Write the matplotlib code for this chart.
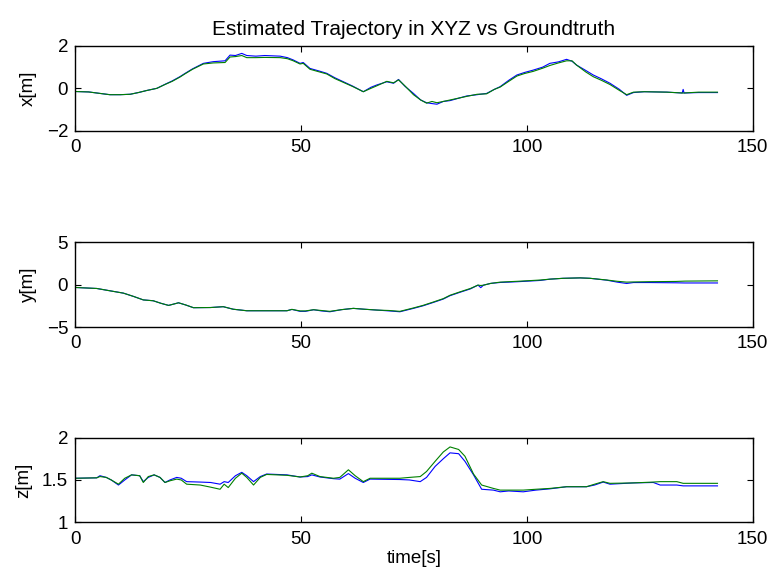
import matplotlib
matplotlib.use('Agg')
import matplotlib.pyplot as plt

# x[m]: tiempo, estimado (azul), groundtruth (verde)
t_x = [0, 3, 5.5, 7.7, 10, 12.2, 14, 15.9, 18.1, 20, 21.5, 23.2, 24.3, 26, 28.4, 30.6,
       33.2, 34.3, 35.5, 36.9, 38, 40, 42, 45.4, 47, 48.3, 49.8, 50.5, 52, 54, 55.7,
       57.5, 59.4, 61.5, 63.8, 65.5, 66.8, 69, 70.5, 71.6, 73, 74.9, 76.5, 77.8, 79,
       80.1, 81.5, 83, 86.7, 89, 91.1, 92.8, 94.1, 96, 97.8, 99.5, 101.4, 103.5, 105.1,
       107, 108.8, 110, 111, 113, 114.7, 116.5, 118.4, 120.5, 122.1, 123.6, 126, 131,
       134.4, 134.6, 134.8, 138, 142.2]
x_est = [-0.15, -0.17, -0.24, -0.3, -0.3, -0.28, -0.2, -0.1, 0.0, 0.2, 0.35, 0.55, 0.7,
         0.92, 1.18, 1.26, 1.3, 1.57, 1.55, 1.65, 1.55, 1.52, 1.55, 1.52, 1.45, 1.34, 1.18,
         1.22, 0.94, 0.82, 0.71, 0.5, 0.31, 0.1, -0.16, 0.05, 0.16, 0.31, 0.24, 0.42, 0.1,
         -0.24, -0.55, -0.68, -0.72, -0.75, -0.62, -0.58, -0.36, -0.3, -0.24, -0.05, 0.08,
         0.38, 0.63, 0.75, 0.86, 1.0, 1.18, 1.25, 1.37, 1.28, 1.1, 0.85, 0.63, 0.45, 0.24,
         -0.05, -0.33, -0.2, -0.16, -0.18, -0.22, -0.05, -0.22, -0.2, -0.2]
x_gt = [-0.15, -0.17, -0.24, -0.3, -0.3, -0.28, -0.2, -0.1, 0.0, 0.19, 0.33, 0.53, 0.68,
        0.9, 1.15, 1.2, 1.22, 1.48, 1.5, 1.55, 1.45, 1.45, 1.46, 1.45, 1.4, 1.3, 1.15,
        1.18, 0.9, 0.78, 0.68, 0.46, 0.28, 0.08, -0.16, 0.0, 0.12, 0.33, 0.26, 0.4, 0.12,
        -0.3, -0.55, -0.7, -0.62, -0.68, -0.62, -0.55, -0.38, -0.28, -0.26, -0.05, 0.06,
        0.33, 0.58, 0.7, 0.8, 0.95, 1.08, 1.2, 1.3, 1.3, 1.1, 0.78, 0.55, 0.38, 0.18,
        -0.1, -0.3, -0.18, -0.16, -0.18, -0.22, -0.22, -0.22, -0.18, -0.18]

# y[m]
t_y = [0, 4.8, 8, 10.7, 13, 15.1, 17.3, 19, 20.7, 22.9, 24.5, 26.2, 30, 32.8, 35, 38, 42,
       46.9, 48, 49.8, 51, 52.8, 54.5, 56.4, 59, 61.6, 64, 66.8, 69.5, 71.9, 74.9, 77,
       79.3, 81.5, 83, 85.2, 87.5, 89.2, 89.8, 90.4, 92, 94.1, 96, 98, 101.4, 103, 105.1,
       108, 111.8, 114, 117.7, 120, 122.1, 123.6, 127, 133, 135, 142.2]
y_est = [-0.33, -0.45, -0.75, -1.0, -1.4, -1.8, -1.9, -2.2, -2.45, -2.14, -2.4, -2.72, -2.7,
         -2.6, -2.9, -3.08, -3.08, -3.08, -2.92, -3.15, -3.15, -2.96, -3.1, -3.2, -2.95,
         -2.8, -2.9, -3.0, -3.1, -3.2, -2.8, -2.5, -2.1, -1.7, -1.3, -0.9, -0.5, -0.05,
         -0.35, -0.06, 0.15, 0.26, 0.3, 0.35, 0.45, 0.5, 0.65, 0.75, 0.8, 0.75, 0.53, 0.3,
         0.14, 0.25, 0.25, 0.22, 0.2, 0.2]
y_gt = [-0.33, -0.45, -0.75, -1.0, -1.4, -1.8, -1.9, -2.2, -2.45, -2.14, -2.4, -2.72, -2.7,
        -2.6, -2.9, -3.08, -3.08, -3.08, -2.92, -3.1, -3.1, -2.96, -3.05, -3.15, -2.95,
        -2.8, -2.9, -3.0, -3.05, -3.15, -2.75, -2.45, -2.05, -1.65, -1.25, -0.85, -0.45,
        -0.05, -0.1, -0.06, 0.15, 0.3, 0.35, 0.4, 0.5, 0.55, 0.65, 0.75, 0.8, 0.75, 0.55,
        0.4, 0.3, 0.32, 0.35, 0.38, 0.42, 0.45]

# z[m]
t_z = [0, 4.8, 5.5, 6.9, 8, 9.6, 11, 12.5, 14.3, 15.1, 16.2, 17.5, 18.8, 19.9, 21, 22.5,
       23.5, 24.7, 27.7, 30, 32.1, 33, 33.9, 35.5, 36.9, 38, 39.5, 41, 42.4, 46.9, 49.8,
       51.5, 52.4, 54.2, 57.2, 58.6, 60.5, 62, 63.8, 65.3, 71.9, 74, 76.4, 77.8, 79.7,
       81.5, 83, 84.9, 86.3, 88.2, 90, 92.6, 94.1, 96, 99.2, 102, 105.1, 108.8, 113.2,
       115, 116.9, 118.4, 123.6, 128, 129.5, 133.2, 134.6, 142.2]
z_est = [1.52, 1.525, 1.55, 1.53, 1.5, 1.44, 1.5, 1.56, 1.55, 1.48, 1.53, 1.56, 1.53, 1.47,
         1.5, 1.53, 1.52, 1.48, 1.475, 1.47, 1.45, 1.48, 1.47, 1.55, 1.59, 1.55, 1.48, 1.54,
         1.57, 1.56, 1.535, 1.54, 1.56, 1.535, 1.515, 1.51, 1.575, 1.52, 1.47, 1.51, 1.505,
         1.5, 1.48, 1.53, 1.66, 1.75, 1.82, 1.81, 1.72, 1.56, 1.39, 1.38, 1.36, 1.37, 1.36,
         1.38, 1.395, 1.42, 1.42, 1.44, 1.475, 1.45, 1.465, 1.47, 1.44, 1.44, 1.43, 1.43]
z_gt = [1.52, 1.525, 1.54, 1.53, 1.5, 1.45, 1.52, 1.56, 1.55, 1.47, 1.54, 1.56, 1.53, 1.47,
        1.49, 1.51, 1.5, 1.45, 1.44, 1.415, 1.39, 1.45, 1.41, 1.52, 1.58, 1.53, 1.44, 1.53,
        1.565, 1.555, 1.535, 1.55, 1.58, 1.54, 1.52, 1.53, 1.62, 1.55, 1.48, 1.52, 1.52,
        1.53, 1.54, 1.6, 1.72, 1.83, 1.89, 1.86, 1.78, 1.57, 1.44, 1.4, 1.38, 1.38, 1.38,
        1.39, 1.4, 1.42, 1.42, 1.45, 1.48, 1.46, 1.465, 1.475, 1.48, 1.48, 1.46, 1.46]

plt.rcParams['font.family'] = ['Liberation Sans', 'DejaVu Sans']
plt.rcParams['font.size'] = 13.5

fig = plt.figure(figsize=(7.74, 5.8), dpi=100)
left, width = 0.097, 0.8755
paneles = [
    (0.7747, t_x, x_est, x_gt, (-2, 2), [-2, 0, 2], 'x[m]'),
    (0.4362, t_y, y_est, y_gt, (-5, 5), [-5, 0, 5], 'y[m]'),
    (0.0995, t_z, z_est, z_gt, (1, 2), [1, 1.5, 2], 'z[m]'),
]
axes = []
for bottom, t, est, gt, ylim, yticks, ylab in paneles:
    ax = fig.add_axes([left, bottom, width, 0.146])
    ax.plot(t, est, color=(0, 0, 1), lw=0.8)
    ax.plot(t, gt, color=(0, 0.5, 0), lw=0.8)
    ax.set_xlim(0, 150)
    ax.set_ylim(*ylim)
    ax.set_xticks([0, 50, 100, 150])
    ax.set_yticks(yticks)
    ax.set_yticklabels([('%g' % v).replace('-', '\u2212') for v in yticks])
    ax.tick_params(direction='in', length=4.5, width=0.8, top=True, right=True)
    ax.tick_params(axis='x', pad=6)
    ax.tick_params(axis='y', pad=5)
    ax.set_ylabel(ylab, labelpad=7)
    for s in ax.spines.values():
        s.set_linewidth(1.0)
    axes.append(ax)

axes[0].set_title('Estimated Trajectory in XYZ vs Groundtruth', fontsize=15, pad=8)
axes[2].set_xlabel('time[s]', labelpad=2)

fig.savefig('out.png', dpi=100)
